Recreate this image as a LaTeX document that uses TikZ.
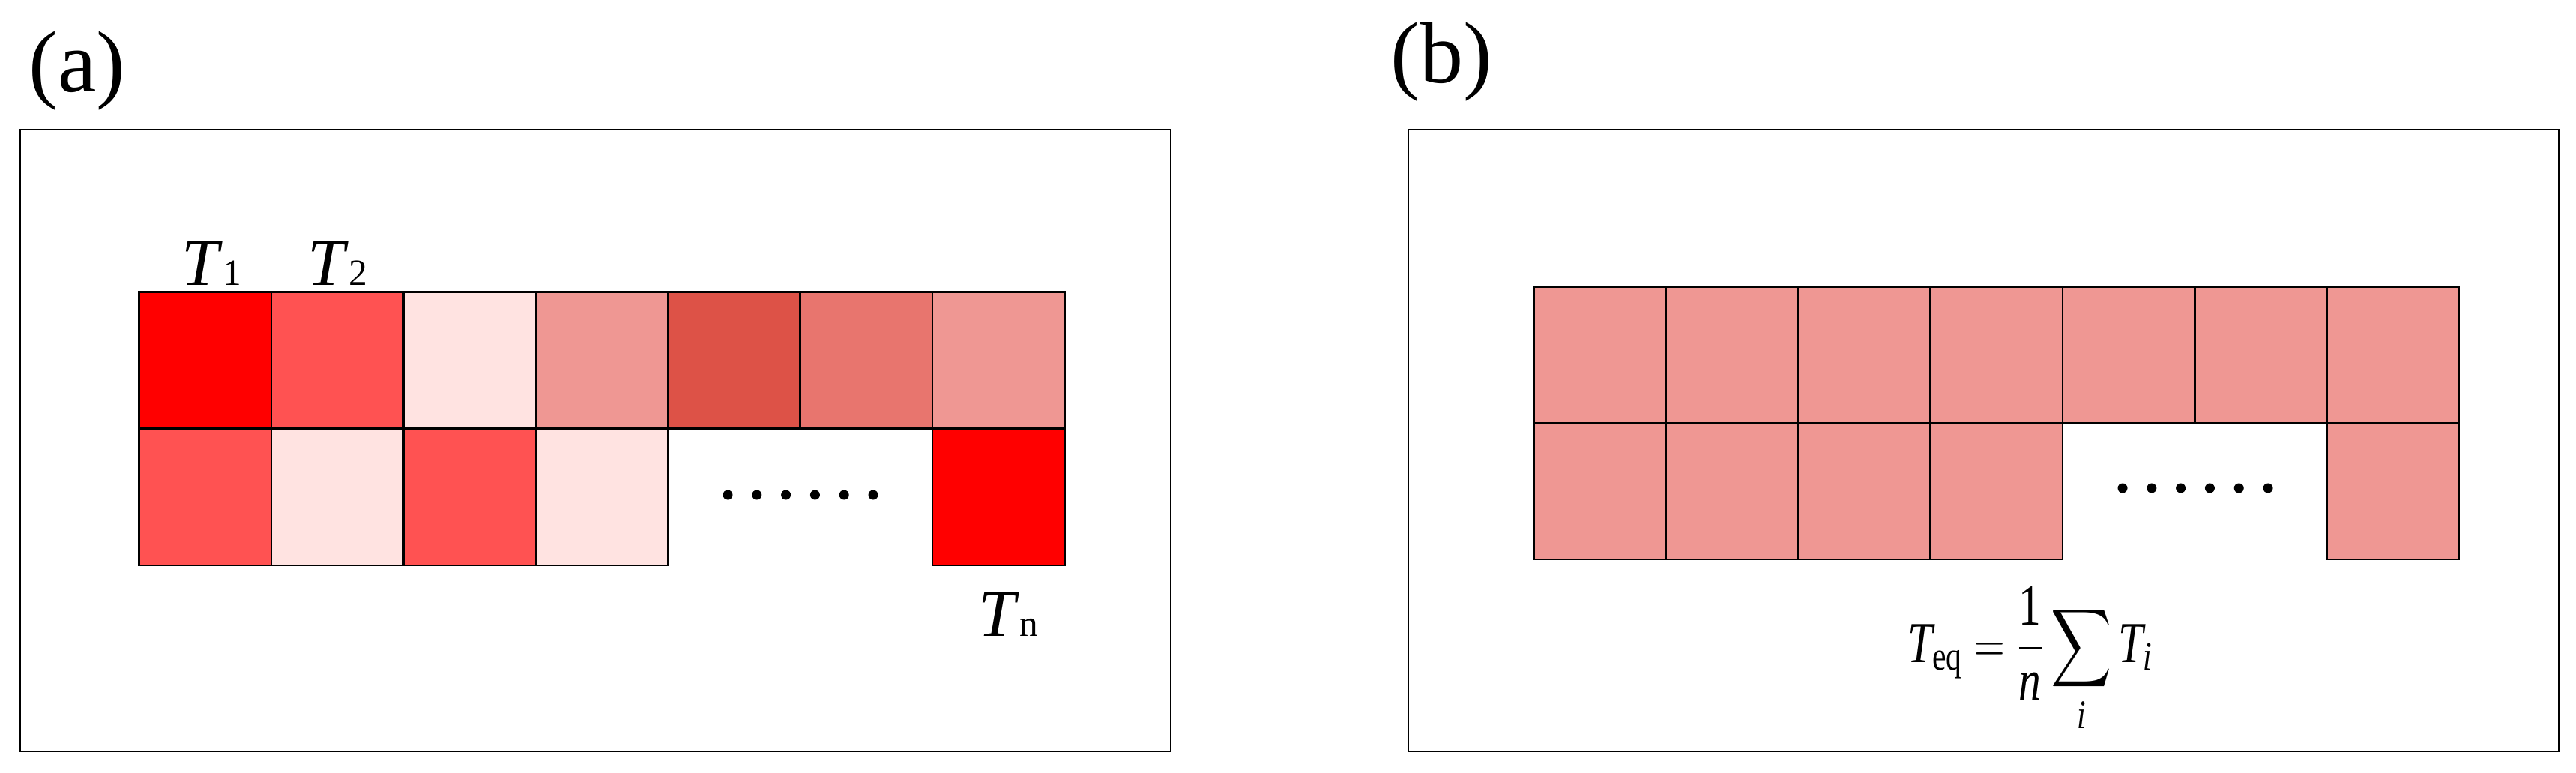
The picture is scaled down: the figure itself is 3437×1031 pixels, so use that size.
\documentclass[tikz,border=0pt]{standalone}
\usepackage{amsmath}
\usepackage{fontspec}
\setmainfont{Liberation Serif}
\definecolor{cRed}{HTML}{FF0000}
\definecolor{cMed}{HTML}{FF5252}
\definecolor{cLight}{HTML}{FFE3E1}
\definecolor{cPink}{HTML}{EF9793}
\definecolor{cDark}{HTML}{DD5247}
\definecolor{cMidB}{HTML}{E8756E}
\begin{document}
\begin{tikzpicture}[x=0.01cm,y=-0.01cm,
  cell/.style={draw, line width=0.75pt, minimum width=1.764cm, minimum height=1.822cm, inner sep=0pt, outer sep=0pt, anchor=north west},
  cellb/.style={cell, minimum height=1.818cm, fill=cPink},
  panel/.style={draw, line width=0.8pt},
  dotmark/.style={circle, fill=black, inner sep=0pt, minimum size=0.13cm},
  lab/.style={inner sep=0pt, anchor=base, font=\fontsize{33}{36}\selectfont},
  tlab/.style={inner sep=0pt, anchor=base, font=\fontsize{25.3}{30}\selectfont}]
\useasboundingbox (0,0) rectangle (3437,1031);
% panel frames
\draw[panel] (27,173) rectangle (1562,1002);
\draw[panel] (1879,173) rectangle (3414,1002);
% panel labels
\node[lab] (la) at (103,123) {(a)};
\node[lab] (lb) at (1923,111) {(b)};
% grid (a), row 1
\foreach \c [count=\i from 0] in {cRed,cMed,cLight,cPink,cDark,cMidB,cPink}
  \node[cell, fill=\c] (a1-\i) at ({185.7+176.4*\i},389.5) {};
% grid (a), row 2
\foreach \c [count=\i from 0] in {cMed,cLight,cMed,cLight}
  \node[cell, fill=\c] (a2-\i) at ({185.7+176.4*\i},571.8) {};
\node[cell, fill=cRed] (a2-6) at ({185.7+176.4*6},571.8) {};
% dots (a)
\foreach \k in {0,...,5}
  \node[dotmark] (da\k) at ({971+38.8*\k},660) {};
% labels (a)
\node[tlab] (t1) at (282,381) {\textit{T}{\fontsize{14}{16}\selectfont 1}};
\node[tlab] (t2) at (450,381) {\textit{T}{\fontsize{14}{16}\selectfont 2}};
\node[tlab] (tn) at (1345,848) {\textit{T}{\fontsize{14}{16}\selectfont n}};
% grid (b)
\foreach \i in {0,...,6}
  \node[cellb] (b1-\i) at ({2046.2+176.4*\i},382.3) {};
\foreach \i in {0,...,3}
  \node[cellb] (b2-\i) at ({2046.2+176.4*\i},564.1) {};
\node[cellb] (b2-6) at ({2046.2+176.4*6},564.1) {};
% dots (b)
\foreach \k in {0,...,5}
  \node[dotmark] (db\k) at ({2832+38.8*\k},651) {};
% formula
\node[inner sep=0pt, anchor=base, font=\fontsize{22}{26}\selectfont] (feq) at (2709,883)
  {\scalebox{0.77}[1]{$\displaystyle \textit{T}_{\text{eq}} = \frac{\text{1}}{\textit{n}}\sum_{\textit{i}}\textit{T}_{\textit{i}}$}};
\end{tikzpicture}
\end{document}
